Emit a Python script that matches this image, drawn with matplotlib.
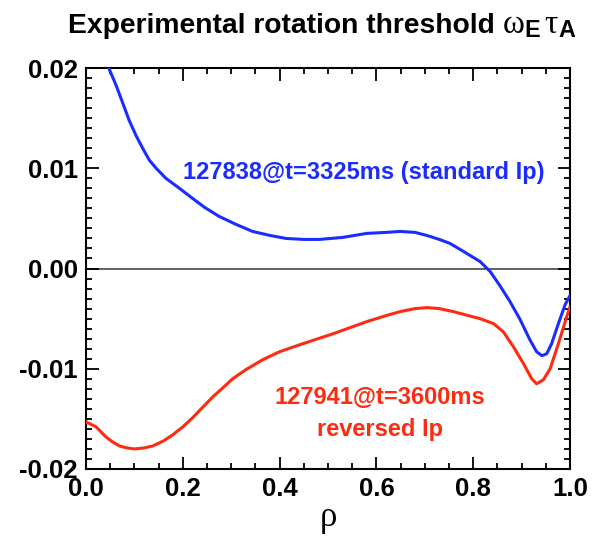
import matplotlib
matplotlib.use("Agg")
import matplotlib.pyplot as plt
from matplotlib.ticker import MultipleLocator

rho_blue = [0.0, 0.025, 0.047, 0.062, 0.076, 0.089, 0.103, 0.117, 0.131, 0.145, 0.165, 0.193, 0.22,
            0.245, 0.275, 0.31, 0.344, 0.38, 0.413, 0.45, 0.482, 0.53, 0.58, 0.62, 0.649, 0.68, 0.704,
            0.73, 0.752, 0.78, 0.814, 0.835, 0.855, 0.876, 0.897, 0.917, 0.931, 0.942, 0.952, 0.962,
            0.976, 0.99, 1.0]
w_blue = [0.0258, 0.0227, 0.0200, 0.0183, 0.0165, 0.0148, 0.0133, 0.0120, 0.0108, 0.0100, 0.0090,
          0.0080, 0.0070, 0.0061, 0.0052, 0.0044, 0.0037, 0.0033, 0.0030, 0.0029, 0.0029, 0.0031,
          0.0035, 0.0036, 0.0037, 0.0036, 0.0033, 0.0029, 0.0025, 0.0017, 0.0007, -0.0003, -0.0017,
          -0.0033, -0.0051, -0.0071, -0.0083, -0.0087, -0.0085, -0.0075, -0.0055, -0.0036, -0.0027]

rho_red = [0.0, 0.021, 0.041, 0.055, 0.069, 0.085, 0.10, 0.12, 0.138, 0.16, 0.179, 0.20, 0.22, 0.24,
           0.262, 0.283, 0.303, 0.33, 0.365, 0.40, 0.442, 0.511, 0.58, 0.62, 0.649, 0.68, 0.704, 0.73,
           0.759, 0.79, 0.814, 0.842, 0.862, 0.883, 0.904, 0.921, 0.931, 0.945, 0.959, 0.976, 0.99, 1.0]
w_red = [-0.0153, -0.0158, -0.0168, -0.0173, -0.0177, -0.0179, -0.0180, -0.0179, -0.0177, -0.0172,
         -0.0166, -0.0158, -0.0149, -0.0139, -0.0128, -0.0119, -0.0110, -0.0101, -0.0091, -0.0083,
         -0.0076, -0.0065, -0.0053, -0.0047, -0.0043, -0.0040, -0.0039, -0.0040, -0.0043, -0.0047,
         -0.0050, -0.0055, -0.0063, -0.0078, -0.0095, -0.0110, -0.0115, -0.0111, -0.0100, -0.0075,
         -0.0053, -0.0038]

plt.rcParams['font.family'] = ['Liberation Sans', 'DejaVu Sans']
plt.rcParams['mathtext.fontset'] = 'custom'
plt.rcParams['mathtext.rm'] = 'Liberation Serif'
plt.rcParams['mathtext.it'] = 'Liberation Serif:italic'
plt.rcParams['mathtext.bf'] = 'Liberation Sans:bold'

BLUE = '#1a2cff'
RED = '#ff2a10'

fig = plt.figure(figsize=(5.99, 5.5), dpi=100)
ax = fig.add_axes([86/599, 1 - 469/550, 484/599, 401/550])

ax.axhline(0, color='#555555', lw=1.3, zorder=1)
ax.plot(rho_blue, w_blue, color=BLUE, lw=2.2, zorder=3, solid_joinstyle='round')
ax.plot(rho_red, w_red, color=RED, lw=2.2, zorder=3, solid_joinstyle='round')

ax.set_xlim(0, 1)
ax.set_ylim(-0.02, 0.02)
ax.set_xticks([0.0, 0.2, 0.4, 0.6, 0.8, 1.0])
ax.set_xticklabels(['0.0', '0.2', '0.4', '0.6', '0.8', '1.0'], fontweight='bold')
ax.set_yticks([-0.02, -0.01, 0.0, 0.01, 0.02])
ax.set_yticklabels(['-0.02', '-0.01', '0.00', '0.01', '0.02'], fontweight='bold')
ax.xaxis.set_minor_locator(MultipleLocator(0.05))
ax.yaxis.set_minor_locator(MultipleLocator(0.001))
ax.tick_params(which='both', direction='in', top=True, right=True, width=1.3)
ax.tick_params(which='major', length=9, labelsize=18.5, pad=6)
ax.tick_params(which='minor', length=4.5)
for s in ax.spines.values():
    s.set_linewidth(1.5)

ax.set_xlabel('ρ', fontsize=25, labelpad=0, family='Liberation Serif')

fig.text(68/599, 1 - 33/550, 'Experimental rotation threshold',
         ha='left', va='baseline', fontsize=20.3, fontweight='bold')
fig.text(502/599, 1 - 33/550, r'$\mathrm{\omega}_{\mathbf{E}}\,\mathrm{\tau}_{\mathbf{A}}$',
         ha='left', va='baseline', fontsize=24)

ax.text(0.574, 0.0096, '127838@t=3325ms (standard Ip)', color=BLUE, fontsize=17,
        fontweight='bold', ha='center', va='center')
ax.text(0.607, -0.0129, '127941@t=3600ms', color=RED, fontsize=17,
        fontweight='bold', ha='center', va='center')
ax.text(0.607, -0.0161, 'reversed Ip', color=RED, fontsize=17,
        fontweight='bold', ha='center', va='center')

fig.savefig('out.png', dpi=100)
